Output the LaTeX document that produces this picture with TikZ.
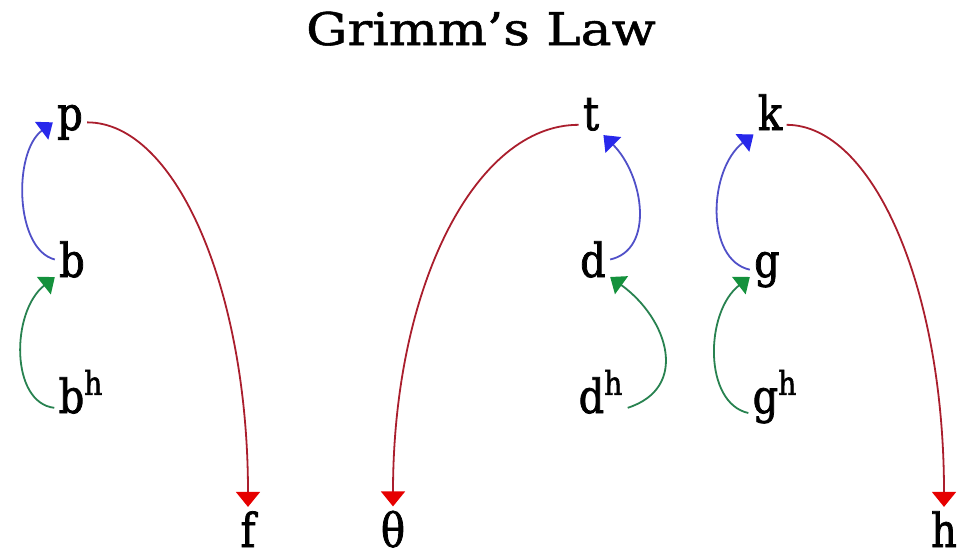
\documentclass[tikz,border=0pt]{standalone}
\usepackage{fontspec}
\setmainfont{DejaVu Serif}
\newfontfamily\soundfont[FakeStretch=0.85,FakeBold=1.6]{DejaVu Serif}
\newfontfamily\titlefont[FakeStretch=1.15,FakeBold=1.2]{DejaVu Serif}
\usepackage{xcolor}
\usepackage{tikz}
\usetikzlibrary{arrows.meta}

\definecolor{redline}{RGB}{170,30,45}
\definecolor{redtip}{RGB}{230,0,0}
\definecolor{blueline}{RGB}{80,80,200}
\definecolor{bluetip}{RGB}{40,40,235}
\definecolor{greenline}{RGB}{40,130,80}
\definecolor{greentip}{RGB}{20,145,60}

\begin{document}
\begin{tikzpicture}[x=0.5pt, y=-0.5pt,
    sound/.style={anchor=base, inner sep=2pt, font={\soundfont\fontsize{23.5}{28}\selectfont}},
    spirant/.style={draw=redline, line width=0.9pt, -{Triangle[width=12pt,length=7.5pt,color=redtip]}},
    devoice/.style={draw=blueline, line width=0.9pt, -{Triangle[width=11pt,length=7pt,color=bluetip]}},
    deaspirate/.style={draw=greenline, line width=0.9pt, -{Triangle[width=11pt,length=7pt,color=greentip]}}]
    \useasboundingbox (0,0) rectangle (961,558);

    % Title
    \node[anchor=base, font={\titlefont\fontsize{22.5}{27}\selectfont}] (title) at (481,45) {Grimm’s Law};

    % Labial row
    \node[sound] (p) at (70,130) {p};
    \node[sound] (b) at (72,277) {b};
    \node[sound] (bh) at (81,413) {b\textsuperscript{h}};
    \node[sound] (f) at (248,547) {f};

    % Dental row
    \node[sound] (t) at (591,130) {t};
    \node[sound] (d) at (593,277) {d};
    \node[sound] (dh) at (601,413) {d\textsuperscript{h}};
    \node[sound] (th) at (393,547) {θ};

    % Velar row
    \node[sound] (k) at (770,130) {k};
    \node[sound] (g) at (767,277) {g};
    \node[sound] (gh) at (775,413) {g\textsuperscript{h}};
    \node[sound] (h) at (944,547) {h};

    % Voiceless stops become fricatives
    \draw[spirant] (p.east) .. controls +(89,0) and +(0,-216) .. (f.north);
    \draw[spirant] (t.mid west) .. controls +(-103,0) and +(0,-220) .. (th.north);
    \draw[spirant] (k.mid east) .. controls +(86,0) and +(0,-220) .. (h.north);

    % Voiced stops become voiceless
    \draw[devoice] (b.west) .. controls +(-40,-10) and +(-40,30) .. (p.west);
    \draw[devoice] (d.east) .. controls +(45,-10) and +(40,40) .. (t.south east);
    \draw[devoice] (g.west) .. controls +(-45,-10) and +(-45,35) .. (k.south west);

    % Aspirates lose aspiration
    \draw[deaspirate] (bh.mid west) .. controls +(-44,-5) and +(-44,35) .. (b.base west);
    \draw[deaspirate] (dh.mid east) .. controls +(62,-20) and +(58,42) .. (d.base east);
    \draw[deaspirate] (gh.base west) .. controls +(-45,-10) and +(-45,35) .. (g.base west);
\end{tikzpicture}
\end{document}
